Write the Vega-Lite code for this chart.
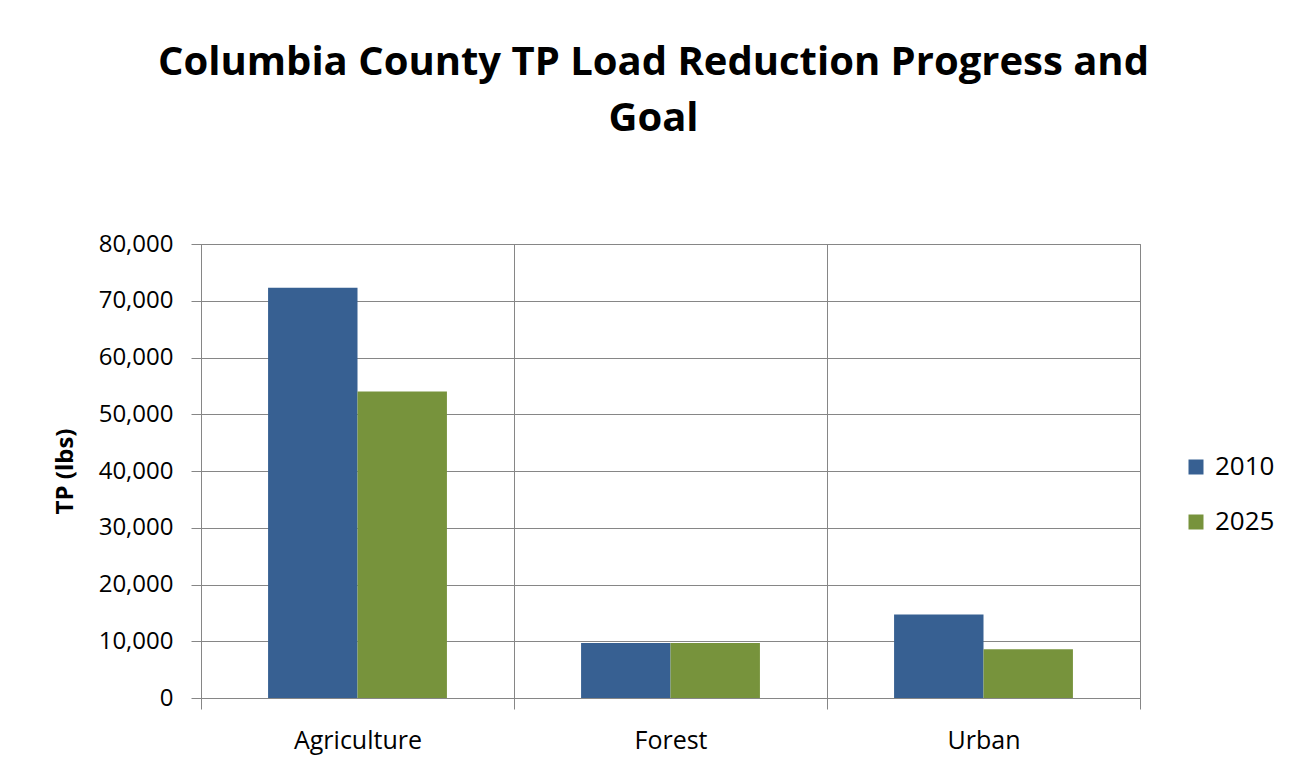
{
  "$schema": "https://vega.github.io/schema/vega-lite/v6.json",
  "autosize": {"type": "none"},
  "padding": {"left": 201, "top": 244, "right": 160, "bottom": 71},
  "width": 939,
  "height": 454,
  "background": "white",
  "title": {
    "text": ["Columbia County TP Load Reduction Progress and", "Goal"],
    "font": "Open Sans",
    "fontSize": 40,
    "fontWeight": "bold",
    "color": "#000000",
    "lineHeight": 56,
    "anchor": "middle",
    "frame": "group",
    "dx": -17,
    "offset": 93
  },
  "config": {
    "view": {"stroke": "#868686", "strokeWidth": 1},
    "font": "Open Sans"
  },
  "data": {
    "values": [
      {"sector": "Agriculture", "year": "2010", "tp": 72300},
      {"sector": "Agriculture", "year": "2025", "tp": 54000},
      {"sector": "Forest", "year": "2010", "tp": 9700},
      {"sector": "Forest", "year": "2025", "tp": 9700},
      {"sector": "Urban", "year": "2010", "tp": 14700},
      {"sector": "Urban", "year": "2025", "tp": 8600}
    ]
  },
  "mark": {"type": "bar"},
  "encoding": {
    "x": {
      "field": "sector",
      "type": "nominal",
      "sort": ["Agriculture", "Forest", "Urban"],
      "scale": {"paddingInner": 0, "paddingOuter": 0},
      "axis": {
        "title": null,
        "labelAngle": 0,
        "tickBand": "extent",
        "grid": true,
        "gridColor": "#868686",
        "domainColor": "#868686",
        "tickColor": "#868686",
        "tickSize": 11,
        "labelFont": "Open Sans",
        "labelFontSize": 25,
        "labelColor": "#000000",
        "labelPadding": 19
      }
    },
    "xOffset": {
      "field": "year",
      "type": "nominal",
      "scale": {"paddingOuter": 0.75, "paddingInner": 0}
    },
    "y": {
      "field": "tp",
      "type": "quantitative",
      "scale": {"domain": [0, 80000]},
      "axis": {
        "title": "TP (lbs)",
        "titleFont": "Open Sans",
        "titleFontSize": 24,
        "titleFontWeight": "bold",
        "titleColor": "#000000",
        "titlePadding": 21,
        "values": [0, 10000, 20000, 30000, 40000, 50000, 60000, 70000, 80000],
        "format": ",.0f",
        "grid": true,
        "gridColor": "#868686",
        "domainColor": "#868686",
        "tickColor": "#868686",
        "tickSize": 10,
        "labelFont": "Open Sans",
        "labelFontSize": 24,
        "labelColor": "#000000",
        "labelPadding": 18
      }
    },
    "color": {
      "field": "year",
      "type": "nominal",
      "scale": {"domain": ["2010", "2025"], "range": ["#376092", "#77933C"]},
      "legend": {
        "title": null,
        "orient": "none",
        "legendX": 982,
        "legendY": 210,
        "symbolType": "square",
        "symbolSize": 225,
        "symbolStrokeWidth": 0,
        "labelFont": "Open Sans",
        "labelFontSize": 26,
        "labelColor": "#000000",
        "labelOffset": 6,
        "rowPadding": 29
      }
    }
  }
}
